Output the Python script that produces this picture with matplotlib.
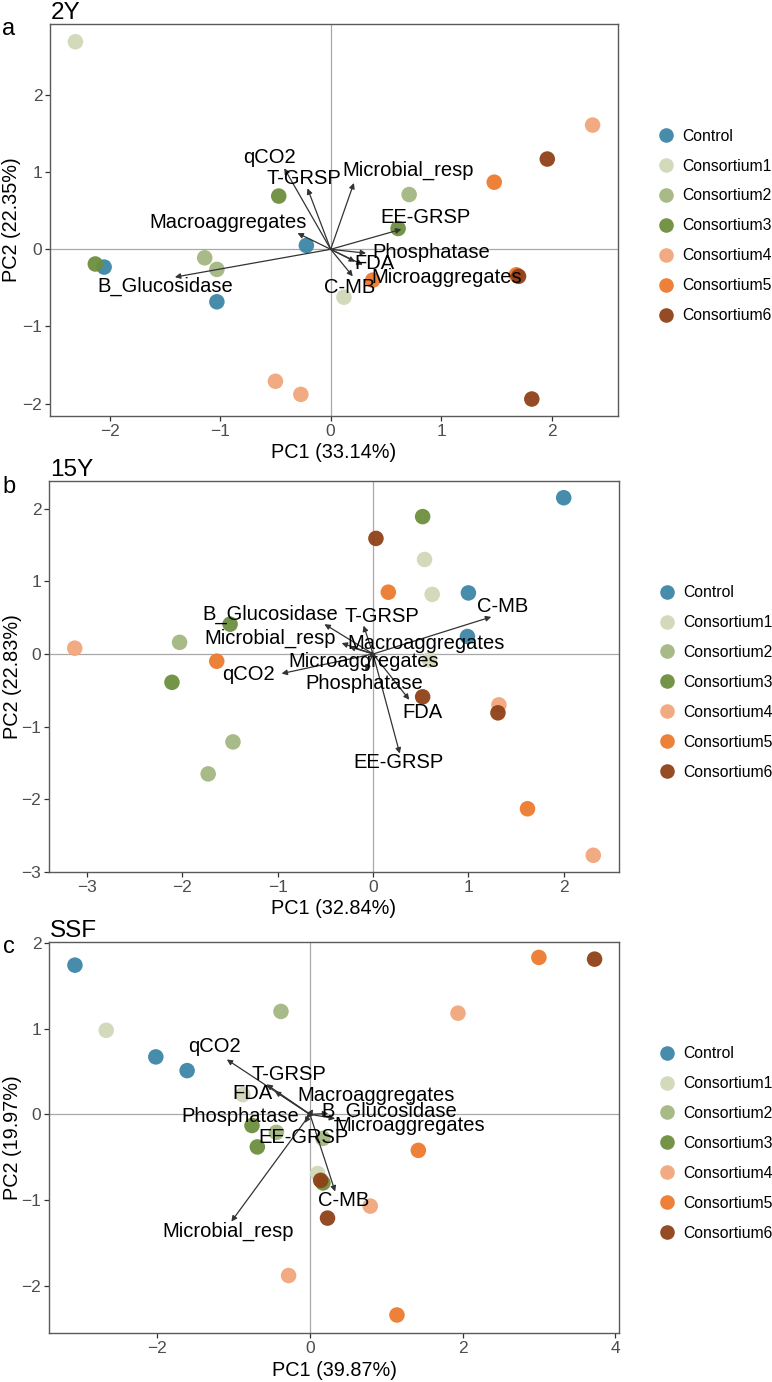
import matplotlib

matplotlib.use("Agg")
import matplotlib.pyplot as plt
from matplotlib.lines import Line2D

plt.rcParams["font.family"] = ["Liberation Sans", "DejaVu Sans"]

groups = ["Control", "Consortium1", "Consortium2", "Consortium3",
          "Consortium4", "Consortium5", "Consortium6"]
group_colors = ["#3D87A7", "#D0D8B8", "#A2B781", "#6D8E3E",
                "#F2A67C", "#EC7A2E", "#8F4118"]

# ---- panel a (2Y) ----
a_pts = {
    "Control": ([-0.22, -2.05, -1.03], [0.05, -0.23, -0.68]),
    "Consortium1": ([-2.31, 0.12], [2.69, -0.62]),
    "Consortium2": ([-1.14, -1.03, 0.71], [-0.11, -0.26, 0.71]),
    "Consortium3": ([-0.47, -2.13, 0.61], [0.69, -0.19, 0.27]),
    "Consortium4": ([-0.50, -0.27, 2.37], [-1.71, -1.88, 1.61]),
    "Consortium5": ([1.48, 0.38, 1.68], [0.87, -0.40, -0.33]),
    "Consortium6": ([1.96, 1.70, 1.82], [1.17, -0.35, -1.94]),
}
a_vars = ["qCO2", "T-GRSP", "Microbial_resp", "Macroaggregates", "B_Glucosidase",
          "EE-GRSP", "Phosphatase", "FDA", "Microaggregates", "C-MB"]
a_tip_x = [-0.42, -0.21, 0.21, -0.30, -1.41, 0.64, 0.32, 0.22, 0.29, 0.20]
a_tip_y = [1.05, 0.79, 0.86, 0.21, -0.36, 0.26, -0.05, -0.16, -0.20, -0.35]
a_lab_x = [-0.55, -0.24, 0.70, -0.93, -1.50, 0.86, 0.91, 0.40, 1.05, 0.17]
a_lab_y = [1.19, 0.92, 1.02, 0.35, -0.48, 0.41, -0.04, -0.18, -0.36, -0.49]

# ---- panel b (15Y) ----
b_pts = {
    "Control": ([2.00, 1.00, 0.99], [2.15, 0.84, 0.24]),
    "Consortium1": ([0.54, 0.62, 0.59], [1.30, 0.82, -0.08]),
    "Consortium2": ([-2.03, -1.47, -1.73], [0.16, -1.21, -1.65]),
    "Consortium3": ([-1.50, -2.11, 0.52], [0.41, -0.39, 1.89]),
    "Consortium4": ([-3.13, 1.32, 2.31], [0.08, -0.70, -2.77]),
    "Consortium5": ([-1.64, 0.16, 1.62], [-0.10, 0.85, -2.13]),
    "Consortium6": ([0.03, 0.52, 1.31], [1.59, -0.59, -0.81]),
}
b_vars = ["B_Glucosidase", "T-GRSP", "Microbial_resp", "C-MB", "Macroaggregates",
          "qCO2", "Microaggregates", "Phosphatase", "FDA", "EE-GRSP"]
b_tip_x = [-0.51, -0.10, -0.33, 1.24, -0.25, -0.96, -0.04, -0.08, 0.38, 0.28]
b_tip_y = [0.41, 0.39, 0.15, 0.51, 0.10, -0.27, -0.05, -0.23, -0.63, -1.37]
b_lab_x = [-1.08, 0.09, -1.08, 1.36, 0.56, -1.31, -0.10, -0.09, 0.52, 0.27]
b_lab_y = [0.55, 0.52, 0.21, 0.65, 0.15, -0.28, -0.10, -0.40, -0.80, -1.49]

# ---- panel c (SSF) ----
c_pts = {
    "Control": ([-3.08, -2.02, -1.61], [1.74, 0.67, 0.51]),
    "Consortium1": ([-2.67, -0.88, 0.10], [0.98, 0.23, -0.69]),
    "Consortium2": ([-0.38, -0.44, 0.17], [1.20, -0.21, -0.28]),
    "Consortium3": ([-0.76, -0.69, 0.17], [-0.13, -0.38, -0.80]),
    "Consortium4": ([0.79, -0.28, 1.94], [-1.07, -1.88, 1.18]),
    "Consortium5": ([1.14, 1.42, 3.00], [-2.34, -0.42, 1.83]),
    "Consortium6": ([0.14, 0.23, 3.73], [-0.77, -1.21, 1.81]),
}
c_vars = ["qCO2", "T-GRSP", "FDA", "Macroaggregates", "B_Glucosidase",
          "Microaggregates", "Phosphatase", "EE-GRSP", "Microbial_resp", "C-MB"]
c_tip_x = [-1.09, -0.57, -0.46, 0.04, 0.24, 0.33, -0.05, -0.07, -1.03, 0.33]
c_tip_y = [0.64, 0.35, 0.27, 0.06, 0.01, -0.05, -0.04, -0.10, -1.25, -0.90]
c_lab_x = [-1.25, -0.28, -0.76, 0.86, 1.04, 1.31, -0.92, -0.08, -1.07, 0.44]
c_lab_y = [0.79, 0.46, 0.24, 0.22, 0.04, -0.13, -0.02, -0.27, -1.37, -1.00]

panels = [
    ("a", "2Y", "PC1 (33.14%)", "PC2 (22.35%)", a_pts, a_vars, a_tip_x, a_tip_y, a_lab_x, a_lab_y,
     (-2.54, 2.60), (-2.16, 2.92), [-2, -1, 0, 1, 2], [-2, -1, 0, 1, 2]),
    ("b", "15Y", "PC1 (32.84%)", "PC2 (22.83%)", b_pts, b_vars, b_tip_x, b_tip_y, b_lab_x, b_lab_y,
     (-3.40, 2.58), (-3.0, 2.38), [-3, -2, -1, 0, 1, 2], [-3, -2, -1, 0, 1, 2]),
    ("c", "SSF", "PC1 (39.87%)", "PC2 (19.97%)", c_pts, c_vars, c_tip_x, c_tip_y, c_lab_x, c_lab_y,
     (-3.42, 4.05), (-2.55, 2.01), [-2, 0, 2, 4], [-2, -1, 0, 1, 2]),
]

W, H = 772, 1382
# axes boxes in pixels: left, top, right, bottom
boxes = [(50, 24, 618, 416), (49, 481, 619, 872), (49, 942, 619, 1333)]
letter_y = [29, 487, 947]

fig = plt.figure(figsize=(W / 100, H / 100), dpi=100)

for (letter, title, xlab, ylab, pts, vars_, tx, ty, lx, ly, xlim, ylim, xt, yt), box, ly_px in zip(
        panels, boxes, letter_y):
    l, t, r, b = box
    ax = fig.add_axes([l / W, 1 - b / H, (r - l) / W, (b - t) / H])
    ax.axhline(0, color="#a8a8a8", lw=0.9, zorder=1)
    ax.axvline(0, color="#a8a8a8", lw=0.9, zorder=1)

    for g, col in zip(groups, group_colors):
        xs, ys = pts[g]
        ax.scatter(xs, ys, s=125, color=col, alpha=0.95, edgecolors="none", zorder=2)

    for name, x1, y1, x2, y2 in zip(vars_, tx, ty, lx, ly):
        ax.annotate("", xy=(x1, y1), xytext=(0, 0),
                    arrowprops=dict(arrowstyle="-|>", color="#333333", lw=0.9,
                                    mutation_scale=8, shrinkA=0, shrinkB=0), zorder=3)
        ax.text(x2, y2, name, ha="center", va="center", fontsize=14.5, color="black", zorder=4)

    ax.set_xlim(*xlim)
    ax.set_ylim(*ylim)
    ax.set_xticks(xt)
    ax.set_yticks(yt)
    ax.tick_params(colors="#333333", labelcolor="#4D4D4D", labelsize=12.5,
                   length=3.5, width=0.9, pad=2)
    for sp in ax.spines.values():
        sp.set_color("#5a5a5a")
        sp.set_linewidth(1.0)

    ax.set_xlabel(xlab, fontsize=14.3)
    ax.xaxis.label.set_va("center")
    ax.xaxis.set_label_coords(0.5, -37 / (b - t))
    ax.set_ylabel(ylab, fontsize=14.3)
    ax.yaxis.label.set_va("center")
    ax.yaxis.set_label_coords(-(l - 12) / (r - l), 0.5)

    ax.text(0.002, 1.0, title, transform=ax.transAxes, ha="left", va="bottom",
            fontsize=17.5)
    fig.text(9 / W, 1 - ly_px / H, letter, ha="center", va="center", fontsize=17)

    handles = [Line2D([], [], marker="o", linestyle="none", markersize=10.5,
                      markerfacecolor=c, markeredgecolor="none", alpha=0.95)
               for c in group_colors]
    ax.legend(handles, groups, loc="center left", bbox_to_anchor=(1.06, 0.485),
              frameon=False, fontsize=11.3, handlelength=1.0, handletextpad=0.5,
              labelspacing=0.95, borderaxespad=0, borderpad=0.4)

fig.savefig("out.png", dpi=100)
